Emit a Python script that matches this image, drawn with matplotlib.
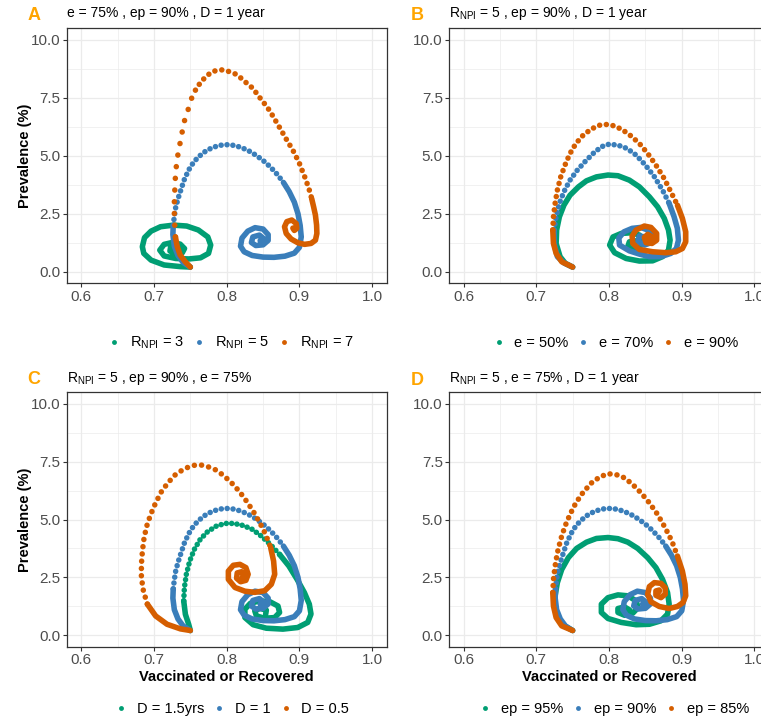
import matplotlib
matplotlib.use("Agg")
import matplotlib.pyplot as plt
from matplotlib.lines import Line2D
import numpy as np

plt.rcParams['font.family'] = ['Liberation Sans', 'DejaVu Sans']
plt.rcParams['mathtext.fontset'] = 'custom'
plt.rcParams['mathtext.rm'] = 'Liberation Sans'
plt.rcParams['mathtext.it'] = 'Liberation Sans:italic'

# ---- data (x = vaccinated or recovered, y = prevalence %) ----

# baseline run: R_NPI = 5, e = 75%, ep = 90%, D = 1 year (blue in A, C, D)
base_x = [0.750, 0.740, 0.733, 0.728, 0.726, 0.7265, 0.728, 0.730, 0.7336, 0.7377,
          0.742, 0.748, 0.755, 0.763, 0.771, 0.780, 0.790, 0.7995, 0.810, 0.820,
          0.830, 0.840, 0.850, 0.860, 0.870, 0.878, 0.886, 0.893, 0.898, 0.901,
          0.9025, 0.900, 0.893, 0.880, 0.865, 0.850, 0.835, 0.824, 0.819, 0.821,
          0.829, 0.839, 0.850, 0.857, 0.857, 0.850, 0.840, 0.834, 0.836, 0.845,
          0.850, 0.846]
base_y = [0.20, 0.40, 0.70, 1.10, 1.60, 2.00, 2.40, 2.80, 3.20, 3.60,
          4.00, 4.40, 4.75, 5.00, 5.20, 5.35, 5.45, 5.48, 5.45, 5.36,
          5.22, 5.03, 4.80, 4.52, 4.18, 3.85, 3.45, 3.00, 2.50, 2.00,
          1.50, 1.05, 0.80, 0.67, 0.62, 0.63, 0.70, 0.86, 1.10, 1.45,
          1.75, 1.90, 1.84, 1.60, 1.35, 1.16, 1.13, 1.26, 1.50, 1.58,
          1.45, 1.34]

# panel A: R_NPI = 3 and 7
a_r3_x = [0.750, 0.736, 0.714, 0.696, 0.686, 0.684, 0.687, 0.696, 0.709, 0.727,
          0.745, 0.761, 0.774, 0.778, 0.775, 0.764, 0.748, 0.730, 0.714, 0.708,
          0.714, 0.725, 0.736, 0.742, 0.739, 0.730, 0.722, 0.723, 0.730, 0.733,
          0.731]
a_r3_y = [0.20, 0.22, 0.29, 0.50, 0.79, 1.08, 1.47, 1.75, 1.94, 2.01,
          1.97, 1.80, 1.50, 1.15, 0.79, 0.60, 0.55, 0.57, 0.68, 0.93,
          1.18, 1.26, 1.19, 1.00, 0.82, 0.76, 0.89, 1.08, 1.12, 1.00,
          0.95]
a_r7_x = [0.750, 0.743, 0.736, 0.732, 0.7295, 0.7286, 0.728, 0.728, 0.7285, 0.729,
          0.730, 0.7315, 0.7345, 0.738, 0.741, 0.7464, 0.751, 0.757, 0.7645, 0.772,
          0.7795, 0.787, 0.7955, 0.8045, 0.8127, 0.8205, 0.828, 0.8364, 0.843, 0.850,
          0.857, 0.8636, 0.8695, 0.875, 0.880, 0.8855, 0.891, 0.8955, 0.900, 0.9036,
          0.9073, 0.9105, 0.9136, 0.9168, 0.9195, 0.922, 0.9236, 0.924, 0.922, 0.916,
          0.907, 0.8977, 0.8886, 0.8818, 0.8795, 0.8827, 0.8895, 0.8955, 0.8964, 0.893,
          0.891]
a_r7_y = [0.20, 0.43, 0.72, 1.08, 1.50, 2.00, 2.50, 3.00, 3.40, 3.88,
          4.30, 4.80, 5.32, 5.89, 6.42, 6.93, 7.43, 7.83, 8.19, 8.43,
          8.62, 8.69, 8.71, 8.62, 8.52, 8.33, 8.12, 7.90, 7.61, 7.33,
          7.04, 6.71, 6.39, 6.10, 5.82, 5.53, 5.24, 4.96, 4.67, 4.38,
          4.09, 3.81, 3.52, 3.16, 2.80, 2.44, 2.01, 1.65, 1.36, 1.22,
          1.18, 1.25, 1.41, 1.65, 1.94, 2.16, 2.23, 2.08, 1.87, 1.78,
          1.88]

# panel B: e = 50%, 70%, 90%
b_e50_x = [0.750, 0.740, 0.7327, 0.7273, 0.728, 0.7318, 0.738, 0.7464, 0.758, 0.769,
           0.7827, 0.7986, 0.8123, 0.828, 0.8418, 0.8555, 0.8668, 0.876, 0.8818, 0.884,
           0.8818, 0.8736, 0.860, 0.8418, 0.8236, 0.8077, 0.8009, 0.8055, 0.8168, 0.8305,
           0.842, 0.8464, 0.8418, 0.833, 0.826, 0.828, 0.835]
b_e50_y = [0.20, 0.36, 0.65, 1.22, 1.80, 2.37, 2.87, 3.30, 3.66, 3.92,
           4.09, 4.17, 4.14, 3.95, 3.66, 3.23, 2.80, 2.30, 1.80, 1.36,
           0.93, 0.65, 0.47, 0.46, 0.57, 0.82, 1.15, 1.50, 1.65, 1.68,
           1.58, 1.29, 1.05, 0.96, 1.10, 1.29, 1.34]
b_e70_x = [0.750, 0.738, 0.729, 0.7245, 0.7245, 0.7273, 0.7318, 0.738, 0.7464, 0.7564,
           0.7668, 0.7782, 0.7895, 0.800, 0.8123, 0.8245, 0.8373, 0.850, 0.8623, 0.8736,
           0.8827, 0.8895, 0.894, 0.8955, 0.8927, 0.885, 0.8714, 0.8555, 0.8418, 0.828,
           0.8145, 0.8135, 0.8205, 0.8318, 0.8436, 0.8532, 0.860, 0.8577, 0.8486, 0.8395,
           0.8418, 0.850, 0.8486]
b_e70_y = [0.20, 0.38, 0.65, 1.22, 1.80, 2.37, 2.95, 3.45, 3.95, 4.38,
           4.74, 5.10, 5.39, 5.50, 5.46, 5.32, 5.03, 4.60, 4.10, 3.52,
           2.95, 2.37, 1.87, 1.36, 1.00, 0.79, 0.65, 0.65, 0.76, 0.90,
           1.15, 1.45, 1.72, 1.87, 1.91, 1.80, 1.54, 1.25, 1.15, 1.29,
           1.54, 1.50, 1.36]
b_e90_x = [0.750, 0.735, 0.7273, 0.7236, 0.7227, 0.7236, 0.7259, 0.729, 0.7336, 0.7395,
           0.7464, 0.7545, 0.7645, 0.7759, 0.7873, 0.7964, 0.8077, 0.8191, 0.8305, 0.8418,
           0.8532, 0.8645, 0.8759, 0.885, 0.8941, 0.9009, 0.9055, 0.9055, 0.9009, 0.8918,
           0.8782, 0.860, 0.8418, 0.8327, 0.8318, 0.8373, 0.8486, 0.8577, 0.8655, 0.8655,
           0.8591, 0.851, 0.8486, 0.8532, 0.8591, 0.8564]
b_e90_y = [0.20, 0.43, 0.79, 1.22, 1.80, 2.37, 2.95, 3.52, 4.09, 4.60,
           5.10, 5.53, 5.89, 6.16, 6.32, 6.35, 6.29, 6.11, 5.85, 5.53,
           5.10, 4.60, 4.02, 3.45, 2.87, 2.30, 1.72, 1.29, 1.00, 0.86,
           0.82, 0.86, 0.96, 1.22, 1.54, 1.80, 1.97, 1.91, 1.65, 1.36,
           1.22, 1.25, 1.48, 1.61, 1.51, 1.44]

# panel C: D = 1.5 yrs and D = 0.5
c_d15_x = [0.750, 0.7477, 0.7432, 0.7409, 0.7418, 0.7445, 0.7491, 0.7555, 0.7636, 0.7736,
           0.7855, 0.7977, 0.810, 0.8227, 0.8355, 0.8477, 0.860, 0.8727, 0.8855, 0.8968,
           0.9068, 0.9136, 0.9159, 0.9114, 0.8977, 0.8773, 0.8545, 0.8364, 0.825, 0.825,
           0.8327, 0.8455, 0.8591, 0.8705, 0.8727, 0.8659, 0.8523, 0.8409, 0.8386, 0.8455,
           0.8545, 0.8536]
c_d15_y = [0.20, 0.47, 0.90, 1.48, 2.05, 2.63, 3.20, 3.71, 4.14, 4.47,
           4.71, 4.83, 4.83, 4.74, 4.57, 4.28, 3.92, 3.49, 2.99, 2.41,
           1.84, 1.34, 0.91, 0.55, 0.33, 0.26, 0.30, 0.45, 0.76, 1.12,
           1.38, 1.48, 1.45, 1.26, 0.98, 0.76, 0.73, 0.83, 1.05, 1.16,
           1.08, 0.91]
c_d05_x = [0.750, 0.7364, 0.718, 0.7023, 0.6909, 0.6855, 0.6827, 0.6827, 0.6841, 0.6864,
           0.690, 0.6955, 0.7023, 0.710, 0.719, 0.7295, 0.741, 0.7523, 0.7627, 0.7727,
           0.784, 0.7955, 0.8068, 0.8173, 0.8273, 0.8364, 0.8455, 0.8536, 0.8605, 0.8645,
           0.866, 0.8614, 0.8523, 0.8386, 0.825, 0.8114, 0.8023, 0.8023, 0.8091, 0.8182,
           0.8264, 0.8295, 0.8264, 0.8191, 0.8136, 0.8145, 0.8205, 0.8236, 0.8214]
c_d05_y = [0.20, 0.27, 0.47, 0.83, 1.34, 1.91, 2.49, 3.06, 3.63, 4.21,
           4.71, 5.22, 5.72, 6.19, 6.58, 6.94, 7.18, 7.33, 7.37, 7.30,
           7.16, 6.91, 6.58, 6.22, 5.79, 5.36, 4.86, 4.35, 3.78, 3.20,
           2.63, 2.20, 1.92, 1.85, 1.90, 2.06, 2.41, 2.77, 3.02, 3.06,
           2.92, 2.63, 2.37, 2.31, 2.46, 2.69, 2.74, 2.60, 2.49]

# panel D: ep = 95% and ep = 85%
d_ep95_x = [0.750, 0.740, 0.7327, 0.7259, 0.7259, 0.729, 0.735, 0.7441, 0.7555, 0.7691,
            0.7827, 0.7986, 0.8123, 0.8259, 0.8395, 0.8532, 0.8645, 0.8736, 0.8805, 0.8827,
            0.8805, 0.8714, 0.8555, 0.8373, 0.8168, 0.7986, 0.7895, 0.7895, 0.7986, 0.8123,
            0.8259, 0.8373, 0.840, 0.8327, 0.8214, 0.8123, 0.8123, 0.8214, 0.8282, 0.8227]
d_ep95_y = [0.20, 0.38, 0.62, 1.12, 1.70, 2.27, 2.84, 3.35, 3.75, 4.02,
            4.18, 4.22, 4.17, 4.02, 3.75, 3.35, 2.92, 2.41, 1.84, 1.34,
            0.91, 0.62, 0.47, 0.45, 0.55, 0.72, 0.98, 1.34, 1.62, 1.74,
            1.70, 1.48, 1.19, 0.95, 0.86, 0.98, 1.15, 1.22, 1.09, 1.00]
d_ep85_x = [0.750, 0.735, 0.7273, 0.7236, 0.7227, 0.7236, 0.7259, 0.729, 0.7336, 0.7395,
            0.7464, 0.7545, 0.7645, 0.7759, 0.7873, 0.7986, 0.810, 0.8214, 0.8327, 0.8441,
            0.8555, 0.8668, 0.8773, 0.8864, 0.8941, 0.9009, 0.9045, 0.9055, 0.9018, 0.8941,
            0.8827, 0.8691, 0.8577, 0.8532, 0.8555, 0.8623, 0.8714, 0.8773, 0.8773, 0.8714,
            0.8645, 0.8645, 0.8691, 0.869]
d_ep85_y = [0.20, 0.40, 0.76, 1.26, 1.84, 2.41, 2.99, 3.56, 4.14, 4.71,
            5.22, 5.72, 6.18, 6.58, 6.84, 6.98, 6.94, 6.80, 6.51, 6.15,
            5.72, 5.22, 4.64, 4.07, 3.42, 2.77, 2.20, 1.70, 1.41, 1.24,
            1.15, 1.24, 1.44, 1.77, 2.10, 2.27, 2.24, 2.05, 1.77, 1.62,
            1.72, 1.91, 1.95, 1.88]

titles = ['e = 75% , ep = 90% , D = 1 year',
          r'$\mathregular{R_{NPI}}$ = 5 , ep = 90% , D = 1 year',
          r'$\mathregular{R_{NPI}}$ = 5 , ep = 90% , e = 75%',
          r'$\mathregular{R_{NPI}}$ = 5 , e = 75% , D = 1 year']
legend_labels = [[r'$\mathregular{R_{NPI}}$ = 3', r'$\mathregular{R_{NPI}}$ = 5', r'$\mathregular{R_{NPI}}$ = 7'],
                 ['e = 50%', 'e = 70%', 'e = 90%'],
                 ['D = 1.5yrs', 'D = 1', 'D = 0.5'],
                 ['ep = 95%', 'ep = 90%', 'ep = 85%']]
letters = ['A', 'B', 'C', 'D']

# ---- style ----
GREEN, BLUE, ORANGE = '#009E73', '#3A7EBA', '#D55E00'
colors = [GREEN, BLUE, ORANGE]
LW = 4.0
W, H = 761, 722

# (curve x, curve y, dotted stretches as (start, end, gap))
panels = [
    [(a_r3_x, a_r3_y, []), (base_x, base_y, [(5, 25, 1.05)]),
     (a_r7_x, a_r7_y, [(4, 17, 2.1), (17, 43, 1.25)])],
    [(b_e50_x, b_e50_y, []), (b_e70_x, b_e70_y, [(4, 20, 1.05)]),
     (b_e90_x, b_e90_y, [(4, 24, 1.2)])],
    [(c_d15_x, c_d15_y, [(3, 17, 0.95)]), (base_x, base_y, [(5, 25, 1.05)]),
     (c_d05_x, c_d05_y, [(4, 28, 1.3)])],
    [(d_ep95_x, d_ep95_y, []), (base_x, base_y, [(5, 25, 1.05)]),
     (d_ep85_x, d_ep85_y, [(4, 24, 1.25)])],
]

# axes boxes in pixels: left, top, right, bottom
boxes = [(66.7, 28.3, 386.7, 283.3), (449, 28.3, 769, 283.3),
         (66.7, 392.3, 386.7, 646.7), (449, 392.3, 769, 646.7)]
letter_pos = [(34, 15), (417, 15), (34, 380), (417, 381)]
title_pos = [(66.7, 16.7), (449, 16.7), (66.7, 381.7), (449, 381.7)]
legend_pos = [(232, 343), (616, 343), (233, 709), (615, 709)]


def draw_curve(ax, xs, ys, color, dotted):
    xs = np.asarray(xs)
    ys = np.asarray(ys)
    pos = 0
    for i0, i1, gap in dotted:
        if i0 > pos:
            ax.plot(xs[pos:i0 + 1], ys[pos:i0 + 1], color=color, lw=LW,
                    solid_capstyle='round', solid_joinstyle='round')
        ax.plot(xs[i0:i1 + 1], ys[i0:i1 + 1], color=color, lw=LW,
                linestyle=(0, (0.01, gap)), dash_capstyle='round')
        pos = i1
    ax.plot(xs[pos:], ys[pos:], color=color, lw=LW,
            solid_capstyle='round', solid_joinstyle='round')


fig = plt.figure(figsize=(W / 100, H / 100), dpi=100)

for k in range(4):
    l, t, r, b = boxes[k]
    ax = fig.add_axes([l / W, 1 - b / H, (r - l) / W, (b - t) / H])
    ax.set_xlim(0.58, 1.02)
    ax.set_ylim(-0.5, 10.5)
    ax.set_xticks([0.6, 0.7, 0.8, 0.9, 1.0])
    ax.set_xticklabels(['0.6', '0.7', '0.8', '0.9', '1.0'])
    ax.set_yticks([0, 2.5, 5, 7.5, 10])
    ax.set_yticklabels(['0.0', '2.5', '5.0', '7.5', '10.0'])
    ax.set_xticks([0.65, 0.75, 0.85, 0.95], minor=True)
    ax.set_yticks([1.25, 3.75, 6.25, 8.75], minor=True)
    ax.grid(which='major', color='#EBEBEB', lw=0.9)
    ax.grid(which='minor', color='#EBEBEB', lw=0.5)
    ax.set_axisbelow(True)
    ax.tick_params(which='major', direction='out', length=3, width=0.8,
                   color='#333333', labelsize=11, labelcolor='#4D4D4D', pad=1.5)
    ax.tick_params(which='minor', length=0)
    for s in ax.spines.values():
        s.set_color('#333333')
        s.set_linewidth(0.9)

    for (xs, ys, dotted), c in zip(panels[k], colors):
        draw_curve(ax, xs, ys, c, dotted)

    if k in (0, 2):
        ax.set_ylabel('Prevalence (%)', fontsize=10.5, fontweight='bold', va='center')
        ax.yaxis.set_label_coords(-0.13, 0.5)
    if k in (2, 3):
        ax.set_xlabel('Vaccinated or Recovered', fontsize=10.5, fontweight='bold', va='center')
        ax.xaxis.set_label_coords(0.5, -0.119)

    lx, ly = letter_pos[k]
    fig.text(lx / W, 1 - ly / H, letters[k], fontsize=13, fontweight='bold',
             color='#FFA500', ha='center', va='center')
    tx, ty = title_pos[k]
    fig.text(tx / W, 1 - ty / H, titles[k], fontsize=10, ha='left', va='baseline')

    handles = [Line2D([], [], ls='none', marker='o', ms=3.5, color=c, mec='none')
               for c in colors]
    gx, gy = legend_pos[k]
    fig.legend(handles, legend_labels[k], loc='center', ncol=3, frameon=False,
               bbox_to_anchor=(gx / W, 1 - gy / H), fontsize=10.5,
               handlelength=0.6, handletextpad=0.75, columnspacing=0.75,
               borderpad=0, borderaxespad=0)

fig.savefig('out.png', dpi=100)
